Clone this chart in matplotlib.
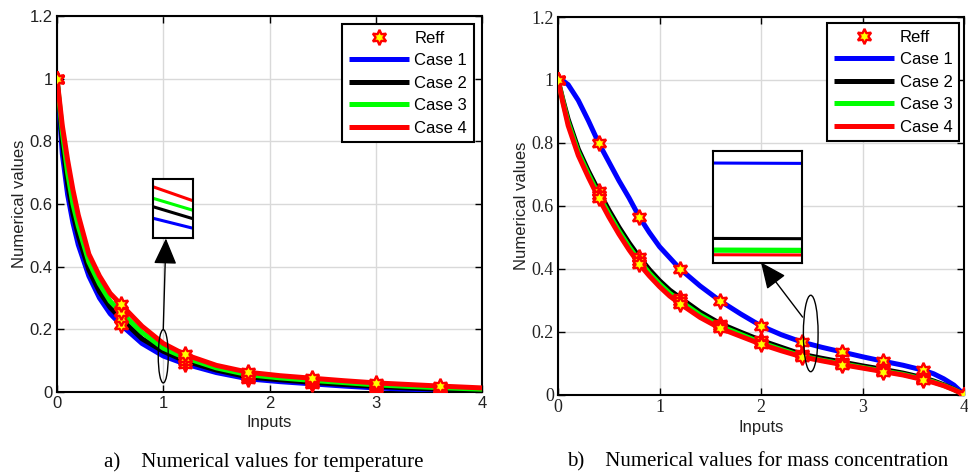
import numpy as np
import matplotlib
matplotlib.use("Agg")
import matplotlib.pyplot as plt
from matplotlib.patches import Ellipse
from matplotlib.ticker import FuncFormatter

# ---------------- data ----------------
# (a) temperature
x_temp = [0, 0.05, 0.1, 0.15, 0.2, 0.3, 0.4, 0.5, 0.6, 0.8, 1.0, 1.2, 1.5, 1.8,
          2.1, 2.4, 2.7, 3.0, 3.3, 3.6, 4.0]
temp_case1 = [1.0, 0.76, 0.63, 0.54, 0.47, 0.37, 0.30, 0.25, 0.215, 0.155, 0.115,
              0.09, 0.062, 0.042, 0.033, 0.026, 0.019, 0.013, 0.009, 0.005, 0.003]
temp_case2 = [1.0, 0.80, 0.665, 0.57, 0.50, 0.39, 0.32, 0.27, 0.235, 0.17, 0.13,
              0.10, 0.07, 0.048, 0.039, 0.031, 0.024, 0.018, 0.013, 0.009, 0.006]
temp_case3 = [1.0, 0.83, 0.70, 0.60, 0.53, 0.415, 0.345, 0.29, 0.255, 0.19, 0.14,
              0.11, 0.077, 0.055, 0.045, 0.037, 0.030, 0.023, 0.018, 0.014, 0.009]
temp_case4 = [1.0, 0.85, 0.74, 0.645, 0.565, 0.44, 0.37, 0.315, 0.28, 0.21, 0.155,
              0.12, 0.085, 0.063, 0.052, 0.044, 0.036, 0.029, 0.024, 0.019, 0.013]
temp_reff_x = [0, 0.6, 1.2, 1.8, 2.4, 3.0, 3.6]

# (b) mass concentration
x_mass = [0, 0.05, 0.1, 0.2, 0.3, 0.4, 0.5, 0.6, 0.7, 0.8, 0.9, 1.0, 1.1, 1.2,
          1.4, 1.6, 1.8, 2.0, 2.2, 2.4, 2.6, 2.8, 3.0, 3.2, 3.4, 3.6, 3.7, 3.8,
          3.9, 4.0]
mass_case1 = [1.0, 0.997, 0.985, 0.935, 0.87, 0.80, 0.74, 0.68, 0.625, 0.565,
              0.515, 0.47, 0.435, 0.40, 0.345, 0.297, 0.256, 0.218, 0.19, 0.167,
              0.15, 0.135, 0.12, 0.106, 0.093, 0.077, 0.066, 0.05, 0.03, 0.0]
mass_case2 = [1.0, 0.935, 0.875, 0.78, 0.71, 0.647, 0.587, 0.532, 0.482, 0.437,
              0.397, 0.362, 0.332, 0.308, 0.262, 0.225, 0.198, 0.172, 0.15, 0.128,
              0.115, 0.103, 0.091, 0.08, 0.068, 0.053, 0.043, 0.031, 0.017, 0.0]
mass_case3 = [1.0, 0.93, 0.865, 0.77, 0.70, 0.635, 0.575, 0.52, 0.47, 0.425,
              0.386, 0.352, 0.322, 0.298, 0.253, 0.217, 0.191, 0.165, 0.143, 0.1225,
              0.109, 0.0975, 0.086, 0.075, 0.064, 0.049, 0.04, 0.029, 0.016, 0.0]
mass_case4 = [1.0, 0.925, 0.855, 0.76, 0.69, 0.625, 0.565, 0.51, 0.46, 0.415,
              0.377, 0.343, 0.313, 0.289, 0.245, 0.21, 0.185, 0.16, 0.139, 0.12,
              0.107, 0.095, 0.084, 0.073, 0.062, 0.047, 0.038, 0.028, 0.015, 0.0]
mass_reff_x = [0, 0.4, 0.8, 1.2, 1.6, 2.0, 2.4, 2.8, 3.2, 3.6, 4.0]

case_labels = ["Case 1", "Case 2", "Case 3", "Case 4"]
case_colors = ["#0000ff", "#000000", "#00ff00", "#ff0000"]
x_ticks = [0, 1, 2, 3, 4]
y_ticks = [0, 0.2, 0.4, 0.6, 0.8, 1.0, 1.2]
captions = ["a)    Numerical values for temperature",
            "b)    Numerical values for mass concentration"]

# ---------------- figure ----------------
W, H = 968, 476
fig = plt.figure(figsize=(W / 100, H / 100), dpi=100)

def px_axes(x0, y0, x1, y1):
    return fig.add_axes([x0 / W, 1 - y1 / H, (x1 - x0) / W, (y1 - y0) / H])

HEX = (6, 1, 0)
fmt = FuncFormatter(lambda v, p: "%g" % round(v, 3))

def draw_panel(ax, x, cases, reff_x, tickfont, tickfs, leg_anchor):
    x = np.asarray(x)
    for c, col, lab in zip(cases, case_colors, case_labels):
        ax.plot(x, c, color=col, lw=3.6, label=lab, solid_capstyle="butt",
                solid_joinstyle="round", zorder=3)
    mask = np.isin(np.round(x, 3), np.round(reff_x, 3))
    first = True
    for c in cases:
        c = np.asarray(c)
        ax.plot(x[mask], c[mask], ls="none", marker=HEX, ms=11, mfc="#ffff00",
                mec="#ff0000", mew=1.7, zorder=5,
                label="Reff" if first else None)
        first = False
    ax.set_xlim(0, 4)
    ax.set_ylim(0, 1.2)
    ax.set_xticks(x_ticks)
    ax.set_yticks(y_ticks)
    ax.yaxis.set_major_formatter(fmt)
    ax.grid(True, color="#d9d9d9", lw=1.0, zorder=0)
    ax.set_axisbelow(True)
    ax.tick_params(direction="in", top=True, right=True, length=5, width=1,
                   labelsize=tickfs, pad=3)
    for lb in ax.get_xticklabels() + ax.get_yticklabels():
        lb.set_fontfamily(tickfont)
        lb.set_color("#222222")
    for s in ax.spines.values():
        s.set_linewidth(1.5)
    ax.set_xlabel("Inputs", fontsize=12, family="Liberation Sans", color="#222222",
                  labelpad=3)
    ax.set_ylabel("Numerical values", fontsize=12, family="Liberation Sans",
                  color="#222222", labelpad=2)
    h, l = ax.get_legend_handles_labels()
    order = [l.index("Reff")] + [l.index(n) for n in case_labels]
    leg = ax.legend([h[i] for i in order], [l[i] for i in order],
                    loc="upper right", bbox_to_anchor=leg_anchor, borderaxespad=0,
                    fancybox=False, framealpha=1, edgecolor="black",
                    prop={"family": "Liberation Sans", "size": 12},
                    handlelength=3.6, handletextpad=0.35, labelspacing=0.45,
                    borderpad=0.4)
    leg.get_frame().set_linewidth(1.5)
    leg.set_zorder(10)

# left panel
axL = px_axes(57, 16, 482, 392)
draw_panel(axL, x_temp, [temp_case1, temp_case2, temp_case3, temp_case4],
           temp_reff_x, "Liberation Sans", 12, (0.981, 0.979))

# right panel
axR = px_axes(558, 17, 964, 394.5)
draw_panel(axR, x_mass, [mass_case1, mass_case2, mass_case3, mass_case4],
           mass_reff_x, "Liberation Serif", 13, (0.988, 0.984))

# annotations (ellipse + arrow)
axL.add_patch(Ellipse((1.0, 0.114), 0.094, 0.17, fill=False, ec="black", lw=1.0,
                      zorder=6))
axL.annotate("", xy=(1.025, 0.49), xytext=(1.0, 0.2),
             arrowprops=dict(arrowstyle="-|>,head_length=0.9,head_width=0.4",
                             color="black", lw=1.0, mutation_scale=18,
                             shrinkA=0, shrinkB=0), zorder=6)
axR.add_patch(Ellipse((2.49, 0.194), 0.145, 0.243, fill=False, ec="black", lw=1.0,
                      zorder=6))
axR.annotate("", xy=(2.0, 0.42), xytext=(2.41, 0.246),
             arrowprops=dict(arrowstyle="-|>,head_length=0.9,head_width=0.4",
                             color="black", lw=1.0, mutation_scale=18,
                             shrinkA=0, shrinkB=0), zorder=6)

# insets
def inset(x0, y0, x1, y1, x, cases, xc, dx, ylo, yhi, lws):
    ai = px_axes(x0, y0, x1, y1)
    for c, col, lw in zip(cases, case_colors, lws):
        ai.plot(x, c, color=col, lw=lw, solid_capstyle="butt")
    ai.set_xlim(xc - dx / 2, xc + dx / 2)
    ai.set_ylim(ylo, yhi)
    ai.set_xticks([])
    ai.set_yticks([])
    for s in ai.spines.values():
        s.set_linewidth(1.5)
    return ai

tc = np.mean([np.interp(1.1, x_temp, c) for c in
              [temp_case1, temp_case2, temp_case3, temp_case4]])
inset(153, 179, 193, 238, x_temp, [temp_case1, temp_case2, temp_case3, temp_case4],
      1.1, 0.095, tc - 0.035, tc + 0.035, [2.2, 2.2, 2.2, 2.2])

bc = np.interp(2.5, x_mass, mass_case1)
inset(713, 151, 802, 263, x_mass, [mass_case1, mass_case2, mass_case3, mass_case4],
      2.5, 0.002, bc + 0.006 - 0.055, bc + 0.006, [2.2, 2.2, 3.8, 2.2])

# captions
fig.text(264 / W, 1 - 462 / H, captions[0], ha="center", va="center",
         family="Liberation Serif", fontsize=15)
fig.text(758 / W, 1 - 462 / H, captions[1], ha="center", va="center",
         family="Liberation Serif", fontsize=15)

fig.savefig("out.png", dpi=100)
